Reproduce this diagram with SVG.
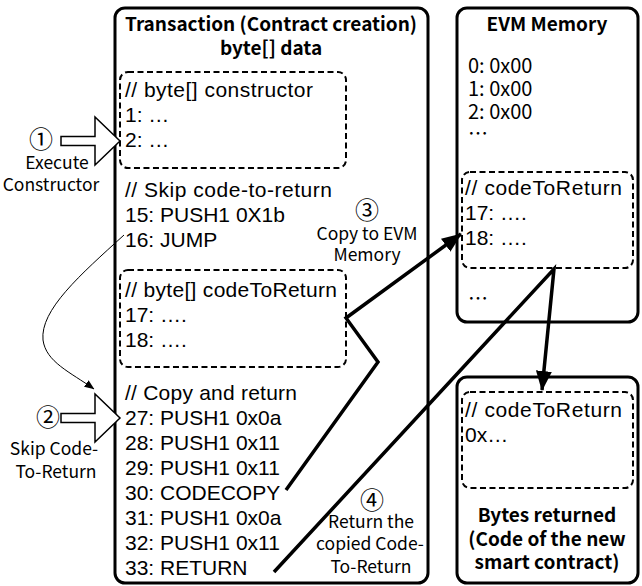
<svg xmlns="http://www.w3.org/2000/svg" width="642" height="586" viewBox="0 0 642 586">
<style>
.box{fill:#fff;stroke:#000;stroke-width:3}
.dash{fill:none;stroke:#000;stroke-width:2;stroke-dasharray:6 3.5}
.code{font-family:"Liberation Sans",Arial,sans-serif;font-size:21px;fill:#000}
.title{font-family:"Noto Sans CJK KR","Noto Sans",sans-serif;font-weight:bold;font-size:19px;text-anchor:middle;fill:#000}
.lbl{font-family:"Noto Sans CJK KR","Noto Sans",sans-serif;font-size:17.5px;text-anchor:middle;fill:#000}
.num{font-family:"Noto Sans CJK KR","Noto Sans",sans-serif;font-size:24px;text-anchor:middle;fill:#000}
.mem{font-family:"Noto Sans CJK KR","Noto Sans",sans-serif;font-size:20px;fill:#000}
.thick{fill:none;stroke:#000;stroke-width:3.5;stroke-linejoin:miter}
.thin{fill:none;stroke:#000;stroke-width:1}
.block{fill:#fff;stroke:#000;stroke-width:1.5}
</style>
<defs>
<marker id="big" viewBox="0 0 20 16" refX="19" refY="8" markerWidth="20" markerHeight="16" orient="auto" markerUnits="userSpaceOnUse">
<path d="M0,0 L20,8 L0,16 Z" fill="#000"/>
</marker>
<marker id="small" viewBox="0 0 10 8" refX="9.5" refY="4" markerWidth="10" markerHeight="8" orient="auto" markerUnits="userSpaceOnUse">
<path d="M0,0 L10,4 L0,8 Z" fill="#000"/>
</marker>
<path id="blk" d="M61,-4.5 L95,-4.5 L95,-24 L120,0 L95,24 L95,4.5 L61,4.5 Z"/>
</defs>

<g id="transaction">
<rect class="box" x="115" y="8" width="313" height="575" rx="10"/>
<text class="title" x="271" y="31">Transaction (Contract creation)</text>
<text class="title" x="271" y="55">byte[] data</text>
</g>

<g id="constructor">
<rect class="dash" x="120" y="72" width="226" height="96" rx="8"/>
<text class="code" x="125" y="97" textLength="188" lengthAdjust="spacing">// byte[] constructor</text>
<text class="code" x="125" y="122">1: …</text>
<text class="code" x="125" y="147">2: …</text>
</g>

<g id="skip">
<text class="code" x="125" y="197" textLength="207" lengthAdjust="spacing">// Skip code-to-return</text>
<text class="code" x="125" y="222">15: PUSH1 0X1b</text>
<text class="code" x="125" y="247">16: JUMP</text>
</g>

<g id="codeToReturn">
<rect class="dash" x="120" y="270" width="226" height="97" rx="8"/>
<text class="code" x="125" y="297" textLength="212" lengthAdjust="spacing">// byte[] codeToReturn</text>
<text class="code" x="125" y="322">17: ….</text>
<text class="code" x="125" y="347">18: ….</text>
</g>

<g id="copyReturn">
<text class="code" x="125" y="400" textLength="172" lengthAdjust="spacing">// Copy and return</text>
<text class="code" x="125" y="425">27: PUSH1 0x0a</text>
<text class="code" x="125" y="450">28: PUSH1 0x11</text>
<text class="code" x="125" y="475">29: PUSH1 0x11</text>
<text class="code" x="125" y="500">30: CODECOPY</text>
<text class="code" x="125" y="525">31: PUSH1 0x0a</text>
<text class="code" x="125" y="550">32: PUSH1 0x11</text>
<text class="code" x="125" y="575">33: RETURN</text>
</g>

<g id="evmMemory">
<rect class="box" x="457" y="8" width="181" height="314" rx="10"/>
<text class="title" x="547" y="31">EVM Memory</text>
<text class="mem" x="468" y="73">0: 0x00</text>
<text class="mem" x="468" y="96">1: 0x00</text>
<text class="mem" x="468" y="119">2: 0x00</text>
<text class="mem" x="468" y="141">…</text>
<text class="mem" x="468" y="306">…</text>
</g>

<g id="evmCode">
<rect class="dash" x="462" y="172" width="171" height="96" rx="8"/>
<text class="code" x="465" y="195" textLength="157" lengthAdjust="spacing">// codeToReturn</text>
<text class="code" x="465" y="220">17: ….</text>
<text class="code" x="465" y="245">18: ….</text>
</g>

<g id="bytesReturned">
<rect class="box" x="457" y="377" width="181" height="206" rx="10"/>
<rect class="dash" x="462" y="392" width="171" height="96" rx="8"/>
<text class="code" x="465" y="417" textLength="157" lengthAdjust="spacing">// codeToReturn</text>
<text class="code" x="465" y="442">0x…</text>
<text class="title" x="547" y="522">Bytes returned</text>
<text class="title" x="547" y="546">(Code of the new</text>
<text class="title" x="547" y="569">smart contract)</text>
</g>

<g id="step1">
<use href="#blk" class="block" transform="translate(0,141)"/>
<text class="num" x="41" y="148">①</text>
<text class="lbl" x="57" y="169">Execute</text>
<text class="lbl" x="51" y="191">Constructor</text>
</g>

<g id="step2">
<use href="#blk" class="block" transform="translate(0,418)"/>
<text class="num" x="48" y="426">②</text>
<text class="lbl" x="54" y="455">Skip Code-</text>
<text class="lbl" x="56" y="478">To-Return</text>
</g>

<g id="step3">
<text class="num" x="367" y="219">③</text>
<text class="lbl" x="367" y="240">Copy to EVM</text>
<text class="lbl" x="367" y="261">Memory</text>
</g>

<g id="step4">
<text class="num" x="372" y="509">④</text>
<text class="lbl" x="371" y="528">Return the</text>
<text class="lbl" x="370" y="550">copied Code-</text>
<text class="lbl" x="371" y="573">To-Return</text>
</g>

<g id="connectors">
<path class="thin" d="M124,235 C80,275 40,310 43,340 C46,362 70,372 94,389" marker-end="url(#small)"/>
<path class="thick" d="M286,490 L378,362 L346,318 L461,234" marker-end="url(#big)"/>
<path class="thick" d="M274,572 L554,269 L542,390" marker-end="url(#big)"/>
</g>
</svg>
